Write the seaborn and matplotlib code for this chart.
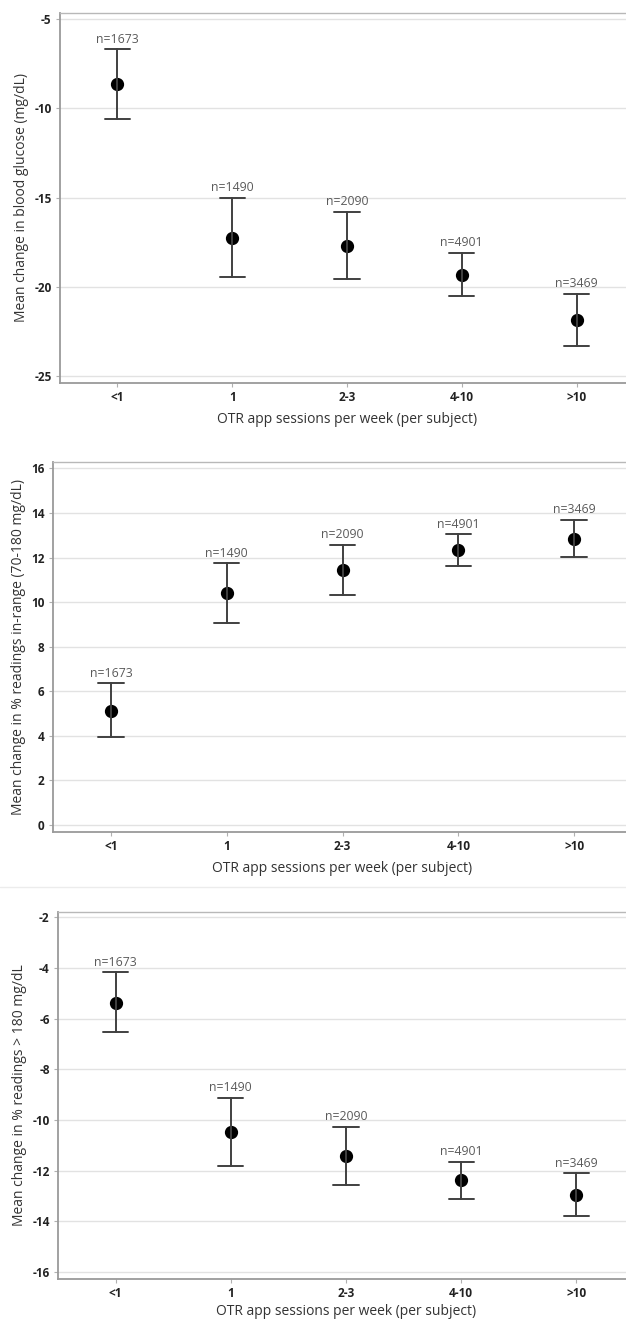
import matplotlib
matplotlib.use("Agg")
import matplotlib.pyplot as plt
import seaborn as sns
import pandas as pd
import numpy as np

# ---------------- data ----------------
categories = ["<1", "1", "2-3", "4-10", ">10"]
n_labels = ["n=1673", "n=1490", "n=2090", "n=4901", "n=3469"]

bg_mean = [-8.65, -17.25, -17.69, -19.30, -21.87]
bg_upper = [-6.68, -15.00, -15.79, -18.07, -20.38]
bg_lower = [-10.59, -19.45, -19.54, -20.49, -23.32]

tir_mean = [5.10, 10.41, 11.45, 12.34, 12.84]
tir_upper = [6.37, 11.74, 12.58, 13.05, 13.70]
tir_lower = [3.93, 9.06, 10.32, 11.63, 12.02]

hi_mean = [-5.38, -10.47, -11.41, -12.39, -12.98]
hi_upper = [-4.18, -9.12, -10.27, -11.66, -12.11]
hi_lower = [-6.54, -11.80, -12.56, -13.13, -13.80]

xlabel = "OTR app sessions per week (per subject)"
ylabels = ["Mean change in blood glucose (mg/dL)",
           "Mean change in % readings in-range (70-180 mg/dL)",
           "Mean change in % readings > 180 mg/dL"]
yticks_list = [[-5, -10, -15, -20, -25],
               list(range(0, 17, 2)),
               list(range(-2, -17, -2))]

# ---------------- style ----------------
sns.set_theme(style="white")
plt.rcParams["font.family"] = ["Open Sans", "DejaVu Sans"]

W, H = 626, 1321
fig = plt.figure(figsize=(W / 100, H / 100), dpi=100)
fig.patch.set_facecolor("white")

# pixel layout: (left, top, bottom, category spacing, ylim, xlabel pad)
layouts = [
    (60, 13.3, 382.5, 114.8, (-25.34, -4.68), 6),
    (53, 461.7, 831.7, 115.8, (-0.30, 16.30), 6),
    (58, 911.7, 1279.0, 115.2, (-16.28, -1.78), 2.5),
]
series = [(bg_mean, bg_lower, bg_upper),
          (tir_mean, tir_lower, tir_upper),
          (hi_mean, hi_lower, hi_upper)]

spine_col = "#9a9a9a"
for (left, top, bottom, sp, ylim, xpad), (m, lo, up), ylab, yt in zip(layouts, series, ylabels, yticks_list):
    width = 5 * sp
    ax = fig.add_axes([left / W, 1 - bottom / H, width / W, (bottom - top) / H])
    # long-form table: lower / mean / upper per category; median = mean, range = CI
    df = pd.DataFrame({
        "cat": np.repeat(categories, 3),
        "val": np.ravel(np.column_stack([lo, m, up])),
    })
    sns.pointplot(data=df, x="cat", y="val", order=categories, ax=ax,
                  estimator="median", errorbar=lambda v: (v.min(), v.max()),
                  linestyle="none", markers="o", color="black",
                  capsize=0.22, markersize=7.5,
                  err_kws={"linewidth": 1.4, "color": "#404040"})
    ax.set_xlim(-0.5, 4.5)
    ax.set_ylim(*ylim)
    ax.set_yticks(yt)
    ax.set_yticklabels([str(t) for t in yt])
    ax.yaxis.grid(True, color="#e2e2e2", linewidth=1.0)
    ax.set_axisbelow(True)
    for i, (u, lab) in enumerate(zip(up, n_labels)):
        ax.annotate(lab, xy=(i, u), xytext=(0, 2.5), textcoords="offset points",
                    ha="center", va="bottom", fontsize=8.8, color="#5a5a5a")
    for s in ["left", "bottom"]:
        ax.spines[s].set_color(spine_col)
        ax.spines[s].set_linewidth(1.3)
    for s in ["top", "right"]:
        ax.spines[s].set_color("#b8b8b8")
        ax.spines[s].set_linewidth(1.0)
    ax.tick_params(axis="both", which="both", length=3, width=0.8, color="#b0b0b0",
                   labelsize=8.5, labelcolor="#222222", pad=3, left=True, bottom=True)
    for t in ax.get_xticklabels() + ax.get_yticklabels():
        t.set_fontweight("bold")
    ax.set_xlabel(xlabel, fontsize=10, color="#333333", labelpad=xpad)
    ax.set_ylabel(ylab, fontsize=10, color="#333333", labelpad=4)

# thin separator line between 2nd and 3rd panels
fig.add_artist(plt.Line2D([0, 1], [1 - 887 / H, 1 - 887 / H], transform=fig.transFigure,
                          color="#ececec", linewidth=1.0))

fig.savefig("out.png", dpi=100, facecolor="white")
